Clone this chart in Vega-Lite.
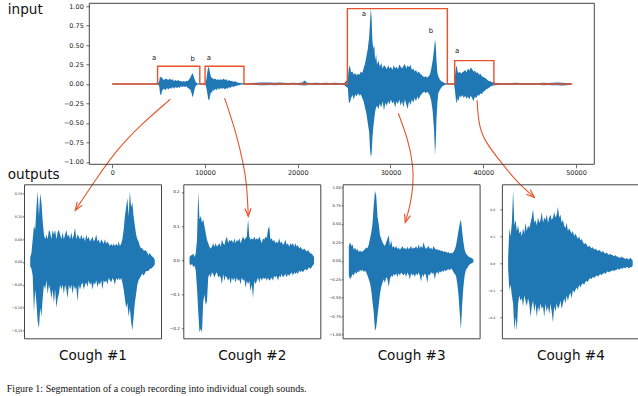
{
 "$schema": "https://vega.github.io/schema/vega-lite/v6.json",
 "padding": {"left": 6, "top": 2.3, "right": 0, "bottom": 0},
 "autosize": {"type": "pad"},
 "background": "white",
 "config": {
   "font": "DejaVu Sans",
   "view": {"stroke": "#444", "strokeWidth": 1},
   "axis": {"domain": false, "grid": false, "labelOverlap": false, "labelColor": "#222", "tickColor": "#333", "tickWidth": 0.7, "titleColor": "#111", "titleFontWeight": "normal", "titleFont": "DejaVu Sans", "labelFont": "DejaVu Sans"}
 },
 "title": {"text": "Figure 1:  Segmentation  of  a  cough  recording  into  individual  cough  sounds.", "orient": "bottom", "anchor": "start", "font": "Liberation Serif", "fontSize": 10, "fontWeight": "normal", "color": "#111", "offset": 22},
 "datasets": {
  "wave": [
   {"x":0,"lo":-0.006,"hi":0.006},{"x":1000,"lo":-0.006,"hi":0.006},{"x":2000,"lo":-0.007,"hi":0.007},{"x":3000,"lo":-0.006,"hi":0.006},{"x":4000,"lo":-0.007,"hi":0.007},{"x":4900,"lo":-0.008,"hi":0.008},
   {"x":5050,"lo":-0.02,"hi":0.03},{"x":5150,"lo":-0.12,"hi":0.1},{"x":5250,"lo":-0.15,"hi":0.08},{"x":5350,"lo":-0.1,"hi":0.09},{"x":5450,"lo":-0.07,"hi":0.06},{"x":5600,"lo":-0.06,"hi":0.05},{"x":5750,"lo":-0.08,"hi":0.07},{"x":5900,"lo":-0.05,"hi":0.06},{"x":6050,"lo":-0.07,"hi":0.05},{"x":6200,"lo":-0.05,"hi":0.07},{"x":6350,"lo":-0.06,"hi":0.05},{"x":6500,"lo":-0.04,"hi":0.06},{"x":6650,"lo":-0.06,"hi":0.04},{"x":6800,"lo":-0.04,"hi":0.05},{"x":6950,"lo":-0.05,"hi":0.04},{"x":7100,"lo":-0.04,"hi":0.05},{"x":7250,"lo":-0.05,"hi":0.04},{"x":7400,"lo":-0.03,"hi":0.04},{"x":7550,"lo":-0.04,"hi":0.03},{"x":7700,"lo":-0.03,"hi":0.04},{"x":7850,"lo":-0.04,"hi":0.03},{"x":8000,"lo":-0.03,"hi":0.04},{"x":8150,"lo":-0.05,"hi":0.04},{"x":8300,"lo":-0.06,"hi":0.06},{"x":8450,"lo":-0.08,"hi":0.09},{"x":8550,"lo":-0.12,"hi":0.12},{"x":8650,"lo":-0.17,"hi":0.14},{"x":8750,"lo":-0.14,"hi":0.11},{"x":8850,"lo":-0.08,"hi":0.07},{"x":8950,"lo":-0.04,"hi":0.04},{"x":9050,"lo":-0.02,"hi":0.02},{"x":9150,"lo":-0.01,"hi":0.01},
   {"x":9300,"lo":-0.006,"hi":0.006},{"x":9700,"lo":-0.006,"hi":0.006},{"x":10050,"lo":-0.01,"hi":0.01},
   {"x":10150,"lo":-0.05,"hi":0.06},{"x":10250,"lo":-0.12,"hi":0.15},{"x":10350,"lo":-0.2,"hi":0.22},{"x":10450,"lo":-0.21,"hi":0.2},{"x":10550,"lo":-0.15,"hi":0.14},{"x":10650,"lo":-0.1,"hi":0.09},{"x":10750,"lo":-0.12,"hi":0.08},{"x":10850,"lo":-0.07,"hi":0.07},{"x":10950,"lo":-0.09,"hi":0.06},{"x":11100,"lo":-0.06,"hi":0.07},{"x":11250,"lo":-0.08,"hi":0.05},{"x":11400,"lo":-0.05,"hi":0.06},{"x":11550,"lo":-0.07,"hi":0.05},{"x":11700,"lo":-0.05,"hi":0.06},{"x":11850,"lo":-0.06,"hi":0.05},{"x":12000,"lo":-0.05,"hi":0.07},{"x":12150,"lo":-0.07,"hi":0.05},{"x":12300,"lo":-0.05,"hi":0.06},{"x":12450,"lo":-0.06,"hi":0.04},{"x":12600,"lo":-0.04,"hi":0.05},{"x":12750,"lo":-0.05,"hi":0.04},{"x":12900,"lo":-0.03,"hi":0.04},{"x":13050,"lo":-0.04,"hi":0.03},{"x":13200,"lo":-0.03,"hi":0.035},{"x":13350,"lo":-0.025,"hi":0.03},{"x":13500,"lo":-0.02,"hi":0.02},{"x":13650,"lo":-0.015,"hi":0.015},{"x":13800,"lo":-0.01,"hi":0.012},{"x":14000,"lo":-0.008,"hi":0.008},
   {"x":14500,"lo":-0.008,"hi":0.01},{"x":15000,"lo":-0.01,"hi":0.012},{"x":15500,"lo":-0.012,"hi":0.015},{"x":16000,"lo":-0.015,"hi":0.02},{"x":16500,"lo":-0.015,"hi":0.018},{"x":17000,"lo":-0.012,"hi":0.02},{"x":17500,"lo":-0.015,"hi":0.015},{"x":18000,"lo":-0.012,"hi":0.018},{"x":18500,"lo":-0.01,"hi":0.015},{"x":19000,"lo":-0.012,"hi":0.012},{"x":19500,"lo":-0.01,"hi":0.015},{"x":20000,"lo":-0.012,"hi":0.012},{"x":20500,"lo":-0.015,"hi":0.02},{"x":20750,"lo":-0.02,"hi":0.045},{"x":21000,"lo":-0.012,"hi":0.015},{"x":21500,"lo":-0.01,"hi":0.012},{"x":22000,"lo":-0.012,"hi":0.015},{"x":22500,"lo":-0.01,"hi":0.012},{"x":23000,"lo":-0.012,"hi":0.015},{"x":23500,"lo":-0.01,"hi":0.012},{"x":24000,"lo":-0.012,"hi":0.015},{"x":24500,"lo":-0.01,"hi":0.012},{"x":25000,"lo":-0.012,"hi":0.012},
   {"x":25400,"lo":-0.05,"hi":0.06},{"x":25500,"lo":-0.22,"hi":0.2},{"x":25600,"lo":-0.25,"hi":0.24},{"x":25750,"lo":-0.18,"hi":0.15},{"x":25900,"lo":-0.14,"hi":0.16},{"x":26050,"lo":-0.2,"hi":0.12},{"x":26200,"lo":-0.13,"hi":0.14},{"x":26350,"lo":-0.16,"hi":0.11},{"x":26500,"lo":-0.12,"hi":0.13},{"x":26650,"lo":-0.15,"hi":0.12},{"x":26800,"lo":-0.13,"hi":0.16},{"x":26950,"lo":-0.18,"hi":0.14},{"x":27100,"lo":-0.22,"hi":0.2},{"x":27250,"lo":-0.3,"hi":0.26},{"x":27400,"lo":-0.38,"hi":0.35},{"x":27550,"lo":-0.5,"hi":0.45},{"x":27700,"lo":-0.62,"hi":0.6},{"x":27800,"lo":-0.85,"hi":0.8},{"x":27880,"lo":-0.93,"hi":0.97},{"x":27960,"lo":-0.9,"hi":0.85},{"x":28050,"lo":-0.7,"hi":0.55},{"x":28150,"lo":-0.55,"hi":0.45},{"x":28250,"lo":-0.45,"hi":0.5},{"x":28350,"lo":-0.35,"hi":0.3},{"x":28450,"lo":-0.3,"hi":0.38},{"x":28550,"lo":-0.28,"hi":0.25},{"x":28700,"lo":-0.32,"hi":0.3},{"x":28850,"lo":-0.25,"hi":0.22},{"x":29000,"lo":-0.3,"hi":0.27},{"x":29150,"lo":-0.22,"hi":0.2},{"x":29300,"lo":-0.34,"hi":0.24},{"x":29450,"lo":-0.24,"hi":0.22},{"x":29600,"lo":-0.28,"hi":0.19},{"x":29750,"lo":-0.22,"hi":0.24},{"x":29900,"lo":-0.26,"hi":0.2},{"x":30050,"lo":-0.2,"hi":0.22},{"x":30200,"lo":-0.25,"hi":0.18},{"x":30350,"lo":-0.22,"hi":0.24},{"x":30500,"lo":-0.3,"hi":0.2},{"x":30650,"lo":-0.22,"hi":0.22},{"x":30800,"lo":-0.26,"hi":0.19},{"x":30950,"lo":-0.2,"hi":0.25},{"x":31100,"lo":-0.28,"hi":0.22},{"x":31250,"lo":-0.22,"hi":0.2},{"x":31400,"lo":-0.3,"hi":0.23},{"x":31550,"lo":-0.2,"hi":0.26},{"x":31700,"lo":-0.26,"hi":0.2},{"x":31850,"lo":-0.32,"hi":0.24},{"x":32000,"lo":-0.22,"hi":0.21},{"x":32150,"lo":-0.27,"hi":0.25},{"x":32300,"lo":-0.2,"hi":0.18},{"x":32450,"lo":-0.24,"hi":0.2},{"x":32600,"lo":-0.18,"hi":0.16},{"x":32750,"lo":-0.22,"hi":0.18},{"x":32900,"lo":-0.16,"hi":0.14},{"x":33050,"lo":-0.2,"hi":0.16},{"x":33200,"lo":-0.15,"hi":0.13},{"x":33350,"lo":-0.13,"hi":0.12},{"x":33500,"lo":-0.11,"hi":0.1},{"x":33650,"lo":-0.1,"hi":0.09},{"x":33800,"lo":-0.12,"hi":0.1},{"x":33950,"lo":-0.1,"hi":0.08},{"x":34100,"lo":-0.12,"hi":0.1},{"x":34250,"lo":-0.15,"hi":0.12},{"x":34400,"lo":-0.22,"hi":0.2},{"x":34550,"lo":-0.35,"hi":0.3},{"x":34700,"lo":-0.6,"hi":0.45},{"x":34800,"lo":-0.91,"hi":0.57},{"x":34880,"lo":-0.75,"hi":0.5},{"x":34960,"lo":-0.45,"hi":0.3},{"x":35050,"lo":-0.25,"hi":0.15},{"x":35150,"lo":-0.12,"hi":0.1},{"x":35300,"lo":-0.08,"hi":0.06},{"x":35450,"lo":-0.05,"hi":0.04},{"x":35600,"lo":-0.03,"hi":0.03},{"x":35750,"lo":-0.02,"hi":0.02},{"x":35900,"lo":-0.01,"hi":0.01},
   {"x":36100,"lo":-0.008,"hi":0.008},{"x":36500,"lo":-0.006,"hi":0.006},{"x":36850,"lo":-0.008,"hi":0.01},
   {"x":36950,"lo":-0.08,"hi":0.1},{"x":37050,"lo":-0.2,"hi":0.2},{"x":37150,"lo":-0.25,"hi":0.24},{"x":37250,"lo":-0.18,"hi":0.15},{"x":37350,"lo":-0.22,"hi":0.14},{"x":37450,"lo":-0.15,"hi":0.16},{"x":37600,"lo":-0.17,"hi":0.13},{"x":37750,"lo":-0.14,"hi":0.15},{"x":37900,"lo":-0.18,"hi":0.16},{"x":38050,"lo":-0.15,"hi":0.18},{"x":38200,"lo":-0.19,"hi":0.15},{"x":38350,"lo":-0.16,"hi":0.2},{"x":38500,"lo":-0.2,"hi":0.17},{"x":38650,"lo":-0.15,"hi":0.21},{"x":38800,"lo":-0.18,"hi":0.19},{"x":38950,"lo":-0.22,"hi":0.16},{"x":39100,"lo":-0.16,"hi":0.17},{"x":39250,"lo":-0.18,"hi":0.14},{"x":39400,"lo":-0.14,"hi":0.15},{"x":39550,"lo":-0.15,"hi":0.12},{"x":39700,"lo":-0.12,"hi":0.13},{"x":39850,"lo":-0.13,"hi":0.1},{"x":40000,"lo":-0.1,"hi":0.09},{"x":40150,"lo":-0.09,"hi":0.08},{"x":40300,"lo":-0.07,"hi":0.07},{"x":40450,"lo":-0.06,"hi":0.05},{"x":40600,"lo":-0.05,"hi":0.04},{"x":40750,"lo":-0.035,"hi":0.035},{"x":40900,"lo":-0.025,"hi":0.025},{"x":41100,"lo":-0.02,"hi":0.02},{"x":41300,"lo":-0.015,"hi":0.015},
   {"x":41600,"lo":-0.012,"hi":0.012},{"x":42000,"lo":-0.01,"hi":0.012},{"x":42500,"lo":-0.012,"hi":0.01},{"x":43000,"lo":-0.01,"hi":0.012},{"x":43500,"lo":-0.012,"hi":0.015},{"x":44000,"lo":-0.01,"hi":0.012},{"x":44500,"lo":-0.012,"hi":0.01},{"x":45000,"lo":-0.01,"hi":0.012},{"x":45500,"lo":-0.012,"hi":0.01},{"x":46000,"lo":-0.01,"hi":0.012},{"x":46500,"lo":-0.015,"hi":0.015},{"x":47000,"lo":-0.012,"hi":0.012},{"x":47500,"lo":-0.015,"hi":0.015},{"x":48000,"lo":-0.015,"hi":0.018},{"x":48500,"lo":-0.018,"hi":0.015},{"x":49000,"lo":-0.015,"hi":0.012},{"x":49500,"lo":-0.01,"hi":0.01}
  ],
  "boxes": [
   {"i":0,"x":0,"y":0},{"i":1,"x":4890,"y":0},{"i":2,"x":4890,"y":0.227},{"i":3,"x":9440,"y":0.227},{"i":4,"x":9440,"y":0},{"i":5,"x":10010,"y":0},{"i":6,"x":10010,"y":0.227},{"i":7,"x":14200,"y":0.227},{"i":8,"x":14200,"y":0},{"i":9,"x":25350,"y":0},{"i":10,"x":25350,"y":0.967},{"i":11,"x":36130,"y":0.967},{"i":12,"x":36130,"y":0},{"i":13,"x":36920,"y":0},{"i":14,"x":36920,"y":0.3},{"i":15,"x":41150,"y":0.3},{"i":16,"x":41150,"y":0},{"i":17,"x":49600,"y":0}
  ],
  "labels": [
   {"x":4525,"y":0.333,"label":"a"},{"x":8680,"y":0.317,"label":"b"},{"x":10410,"y":0.333,"label":"a"},
   {"x":27140,"y":0.894,"label":"a"},{"x":34360,"y":0.685,"label":"b"},{"x":37180,"y":0.428,"label":"a"}
  ],
  "arrows": [
   {"arrow":1,"i":0,"x":6258,"y":-0.196},{"arrow":1,"i":1,"x":3131,"y":-0.517},{"arrow":1,"i":2,"x":436,"y":-0.85},{"arrow":1,"i":3,"x":-1829,"y":-1.235},{"arrow":1,"i":4,"x":-3986,"y":-1.62},
   {"arrow":2,"i":0,"x":12112,"y":-0.18},{"arrow":2,"i":1,"x":13373,"y":-0.632},{"arrow":2,"i":2,"x":14128,"y":-1.017},{"arrow":2,"i":3,"x":14506,"y":-1.274},{"arrow":2,"i":4,"x":14667,"y":-1.697},
   {"arrow":3,"i":0,"x":30840,"y":-0.376},{"arrow":3,"i":1,"x":31918,"y":-0.722},{"arrow":3,"i":2,"x":32457,"y":-1.043},{"arrow":3,"i":3,"x":32457,"y":-1.299},{"arrow":3,"i":4,"x":32134,"y":-1.556},{"arrow":3,"i":5,"x":31595,"y":-1.774},
   {"arrow":4,"i":0,"x":39334,"y":-0.209},{"arrow":4,"i":1,"x":39517,"y":-0.552},{"arrow":4,"i":2,"x":40336,"y":-0.764},{"arrow":4,"i":3,"x":42029,"y":-1.021},{"arrow":4,"i":4,"x":43562,"y":-1.248},{"arrow":4,"i":5,"x":45503,"y":-1.453}
  ],
  "heads": [
   {"arrow":1,"x":-3986,"y":-1.62},{"arrow":2,"x":14667,"y":-1.697},{"arrow":3,"x":31595,"y":-1.774},{"arrow":4,"x":45503,"y":-1.453}
  ],
  "c1": [
   {"t":0,"lo":-0.01,"hi":0.01},{"t":1,"lo":-0.015,"hi":0.02},{"t":2,"lo":-0.03,"hi":0.05},{"t":3,"lo":-0.11,"hi":0.08},{"t":4,"lo":-0.06,"hi":0.07},{"t":5,"lo":-0.09,"hi":0.12},{"t":6,"lo":-0.13,"hi":0.155},{"t":7,"lo":-0.145,"hi":0.1},{"t":8,"lo":-0.1,"hi":0.15},{"t":9,"lo":-0.12,"hi":0.13},{"t":10,"lo":-0.08,"hi":0.09},{"t":11,"lo":-0.05,"hi":0.06},{"t":12,"lo":-0.06,"hi":0.05},{"t":13,"lo":-0.04,"hi":0.06},{"t":14,"lo":-0.07,"hi":0.05},{"t":15,"lo":-0.05,"hi":0.07},{"t":16,"lo":-0.06,"hi":0.065},{"t":17,"lo":-0.08,"hi":0.05},{"t":18,"lo":-0.06,"hi":0.07},{"t":19,"lo":-0.09,"hi":0.06},{"t":20,"lo":-0.06,"hi":0.07},{"t":21,"lo":-0.1,"hi":0.05},{"t":22,"lo":-0.08,"hi":0.065},{"t":23,"lo":-0.07,"hi":0.07},{"t":24,"lo":-0.05,"hi":0.06},{"t":25,"lo":-0.06,"hi":0.05},{"t":26,"lo":-0.05,"hi":0.065},{"t":27,"lo":-0.07,"hi":0.05},{"t":28,"lo":-0.05,"hi":0.06},{"t":29,"lo":-0.06,"hi":0.07},{"t":30,"lo":-0.08,"hi":0.055},{"t":31,"lo":-0.05,"hi":0.06},{"t":32,"lo":-0.06,"hi":0.05},{"t":33,"lo":-0.05,"hi":0.065},{"t":34,"lo":-0.07,"hi":0.05},{"t":35,"lo":-0.05,"hi":0.06},{"t":36,"lo":-0.06,"hi":0.075},{"t":37,"lo":-0.055,"hi":0.05},{"t":38,"lo":-0.087,"hi":0.06},{"t":39,"lo":-0.05,"hi":0.055},{"t":40,"lo":-0.06,"hi":0.05},{"t":41,"lo":-0.05,"hi":0.06},{"t":42,"lo":-0.045,"hi":0.05},{"t":43,"lo":-0.06,"hi":0.055},{"t":44,"lo":-0.05,"hi":0.045},{"t":45,"lo":-0.045,"hi":0.06},{"t":46,"lo":-0.055,"hi":0.05},{"t":47,"lo":-0.04,"hi":0.055},{"t":48,"lo":-0.05,"hi":0.045},{"t":49,"lo":-0.045,"hi":0.05},{"t":50,"lo":-0.06,"hi":0.055},{"t":51,"lo":-0.045,"hi":0.045},{"t":52,"lo":-0.05,"hi":0.05},{"t":53,"lo":-0.04,"hi":0.06},{"t":54,"lo":-0.055,"hi":0.045},{"t":55,"lo":-0.045,"hi":0.05},{"t":56,"lo":-0.05,"hi":0.04},{"t":57,"lo":-0.04,"hi":0.05},{"t":58,"lo":-0.06,"hi":0.045},{"t":59,"lo":-0.04,"hi":0.04},{"t":60,"lo":-0.045,"hi":0.05},{"t":61,"lo":-0.04,"hi":0.04},{"t":62,"lo":-0.05,"hi":0.045},{"t":63,"lo":-0.035,"hi":0.04},{"t":64,"lo":-0.04,"hi":0.035},{"t":65,"lo":-0.045,"hi":0.04},{"t":66,"lo":-0.035,"hi":0.035},{"t":67,"lo":-0.04,"hi":0.04},{"t":68,"lo":-0.05,"hi":0.035},{"t":69,"lo":-0.035,"hi":0.04},{"t":70,"lo":-0.04,"hi":0.035},{"t":71,"lo":-0.035,"hi":0.045},{"t":72,"lo":-0.04,"hi":0.035},{"t":73,"lo":-0.035,"hi":0.04},{"t":74,"lo":-0.045,"hi":0.05},{"t":75,"lo":-0.06,"hi":0.07},{"t":76,"lo":-0.08,"hi":0.1},{"t":77,"lo":-0.1,"hi":0.12},{"t":78,"lo":-0.09,"hi":0.14},{"t":79,"lo":-0.12,"hi":0.1},{"t":80,"lo":-0.1,"hi":0.155},{"t":81,"lo":-0.13,"hi":0.12},{"t":82,"lo":-0.15,"hi":0.13},{"t":83,"lo":-0.12,"hi":0.1},{"t":84,"lo":-0.09,"hi":0.08},{"t":85,"lo":-0.07,"hi":0.06},{"t":86,"lo":-0.05,"hi":0.05},{"t":87,"lo":-0.04,"hi":0.045},{"t":88,"lo":-0.035,"hi":0.035},{"t":89,"lo":-0.03,"hi":0.03},{"t":90,"lo":-0.025,"hi":0.03},{"t":91,"lo":-0.03,"hi":0.025},{"t":92,"lo":-0.025,"hi":0.025},{"t":93,"lo":-0.02,"hi":0.025},{"t":94,"lo":-0.02,"hi":0.02},{"t":95,"lo":-0.02,"hi":0.015},{"t":96,"lo":-0.015,"hi":0.02},{"t":97,"lo":-0.015,"hi":0.015},{"t":98,"lo":-0.012,"hi":0.012},{"t":99,"lo":-0.01,"hi":0.01},{"t":100,"lo":-0.005,"hi":0.005}
  ],
  "c2": [
   {"t":0,"lo":-0.01,"hi":0.01},{"t":1,"lo":-0.015,"hi":0.015},{"t":2,"lo":-0.01,"hi":0.015},{"t":3,"lo":-0.02,"hi":0.02},{"t":4,"lo":-0.015,"hi":0.01},{"t":5,"lo":-0.03,"hi":0.02},{"t":6,"lo":-0.08,"hi":0.06},{"t":7,"lo":-0.15,"hi":0.2},{"t":8,"lo":-0.21,"hi":0.12},{"t":9,"lo":-0.2,"hi":0.13},{"t":10,"lo":-0.21,"hi":0.11},{"t":11,"lo":-0.12,"hi":0.12},{"t":12,"lo":-0.1,"hi":0.1},{"t":13,"lo":-0.13,"hi":0.08},{"t":14,"lo":-0.12,"hi":0.06},{"t":15,"lo":-0.05,"hi":0.05},{"t":16,"lo":-0.04,"hi":0.04},{"t":17,"lo":-0.05,"hi":0.035},{"t":18,"lo":-0.035,"hi":0.04},{"t":19,"lo":-0.04,"hi":0.05},{"t":20,"lo":-0.05,"hi":0.04},{"t":21,"lo":-0.04,"hi":0.05},{"t":22,"lo":-0.035,"hi":0.04},{"t":23,"lo":-0.05,"hi":0.045},{"t":24,"lo":-0.045,"hi":0.05},{"t":25,"lo":-0.05,"hi":0.04},{"t":26,"lo":-0.07,"hi":0.06},{"t":27,"lo":-0.04,"hi":0.05},{"t":28,"lo":-0.06,"hi":0.045},{"t":29,"lo":-0.045,"hi":0.06},{"t":30,"lo":-0.05,"hi":0.07},{"t":31,"lo":-0.06,"hi":0.05},{"t":32,"lo":-0.05,"hi":0.06},{"t":33,"lo":-0.07,"hi":0.055},{"t":34,"lo":-0.05,"hi":0.06},{"t":35,"lo":-0.06,"hi":0.05},{"t":36,"lo":-0.05,"hi":0.065},{"t":37,"lo":-0.065,"hi":0.05},{"t":38,"lo":-0.05,"hi":0.06},{"t":39,"lo":-0.06,"hi":0.055},{"t":40,"lo":-0.055,"hi":0.065},{"t":41,"lo":-0.07,"hi":0.05},{"t":42,"lo":-0.05,"hi":0.06},{"t":43,"lo":-0.06,"hi":0.07},{"t":44,"lo":-0.055,"hi":0.06},{"t":45,"lo":-0.08,"hi":0.065},{"t":46,"lo":-0.06,"hi":0.07},{"t":47,"lo":-0.07,"hi":0.12},{"t":48,"lo":-0.06,"hi":0.07},{"t":49,"lo":-0.09,"hi":0.06},{"t":50,"lo":-0.07,"hi":0.065},{"t":51,"lo":-0.11,"hi":0.06},{"t":52,"lo":-0.06,"hi":0.07},{"t":53,"lo":-0.07,"hi":0.06},{"t":54,"lo":-0.06,"hi":0.065},{"t":55,"lo":-0.05,"hi":0.06},{"t":56,"lo":-0.065,"hi":0.07},{"t":57,"lo":-0.05,"hi":0.06},{"t":58,"lo":-0.06,"hi":0.05},{"t":59,"lo":-0.05,"hi":0.065},{"t":60,"lo":-0.055,"hi":0.06},{"t":61,"lo":-0.05,"hi":0.07},{"t":62,"lo":-0.06,"hi":0.065},{"t":63,"lo":-0.05,"hi":0.09},{"t":64,"lo":-0.06,"hi":0.1},{"t":65,"lo":-0.055,"hi":0.06},{"t":66,"lo":-0.05,"hi":0.065},{"t":67,"lo":-0.06,"hi":0.055},{"t":68,"lo":-0.045,"hi":0.06},{"t":69,"lo":-0.05,"hi":0.05},{"t":70,"lo":-0.045,"hi":0.055},{"t":71,"lo":-0.06,"hi":0.05},{"t":72,"lo":-0.045,"hi":0.065},{"t":73,"lo":-0.05,"hi":0.05},{"t":74,"lo":-0.04,"hi":0.055},{"t":75,"lo":-0.05,"hi":0.045},{"t":76,"lo":-0.045,"hi":0.05},{"t":77,"lo":-0.04,"hi":0.06},{"t":78,"lo":-0.05,"hi":0.045},{"t":79,"lo":-0.04,"hi":0.05},{"t":80,"lo":-0.045,"hi":0.04},{"t":81,"lo":-0.04,"hi":0.05},{"t":82,"lo":-0.035,"hi":0.045},{"t":83,"lo":-0.045,"hi":0.05},{"t":84,"lo":-0.035,"hi":0.04},{"t":85,"lo":-0.04,"hi":0.05},{"t":86,"lo":-0.035,"hi":0.04},{"t":87,"lo":-0.04,"hi":0.045},{"t":88,"lo":-0.03,"hi":0.035},{"t":89,"lo":-0.035,"hi":0.04},{"t":90,"lo":-0.03,"hi":0.035},{"t":91,"lo":-0.035,"hi":0.03},{"t":92,"lo":-0.03,"hi":0.035},{"t":93,"lo":-0.025,"hi":0.03},{"t":94,"lo":-0.03,"hi":0.025},{"t":95,"lo":-0.025,"hi":0.03},{"t":96,"lo":-0.02,"hi":0.025},{"t":97,"lo":-0.025,"hi":0.02},{"t":98,"lo":-0.02,"hi":0.02},{"t":99,"lo":-0.015,"hi":0.015},{"t":100,"lo":-0.01,"hi":0.01}
  ],
  "c3": [
   {"t":0,"lo":-0.2,"hi":0.2},{"t":1,"lo":-0.25,"hi":0.25},{"t":2,"lo":-0.22,"hi":0.2},{"t":3,"lo":-0.18,"hi":0.22},{"t":4,"lo":-0.2,"hi":0.15},{"t":5,"lo":-0.15,"hi":0.18},{"t":6,"lo":-0.18,"hi":0.14},{"t":7,"lo":-0.14,"hi":0.16},{"t":8,"lo":-0.16,"hi":0.12},{"t":9,"lo":-0.12,"hi":0.14},{"t":10,"lo":-0.14,"hi":0.12},{"t":11,"lo":-0.12,"hi":0.13},{"t":12,"lo":-0.15,"hi":0.14},{"t":13,"lo":-0.13,"hi":0.16},{"t":14,"lo":-0.16,"hi":0.18},{"t":15,"lo":-0.2,"hi":0.17},{"t":16,"lo":-0.25,"hi":0.22},{"t":17,"lo":-0.3,"hi":0.3},{"t":18,"lo":-0.4,"hi":0.38},{"t":19,"lo":-0.55,"hi":0.5},{"t":20,"lo":-0.7,"hi":0.75},{"t":21,"lo":-0.95,"hi":0.95},{"t":22,"lo":-0.9,"hi":0.88},{"t":23,"lo":-0.75,"hi":0.6},{"t":24,"lo":-0.6,"hi":0.5},{"t":25,"lo":-0.45,"hi":0.35},{"t":26,"lo":-0.35,"hi":0.3},{"t":27,"lo":-0.3,"hi":0.25},{"t":28,"lo":-0.25,"hi":0.22},{"t":29,"lo":-0.3,"hi":0.2},{"t":30,"lo":-0.22,"hi":0.25},{"t":31,"lo":-0.25,"hi":0.3},{"t":32,"lo":-0.35,"hi":0.35},{"t":33,"lo":-0.25,"hi":0.2},{"t":34,"lo":-0.2,"hi":0.28},{"t":35,"lo":-0.22,"hi":0.18},{"t":36,"lo":-0.18,"hi":0.2},{"t":37,"lo":-0.2,"hi":0.17},{"t":38,"lo":-0.17,"hi":0.2},{"t":39,"lo":-0.22,"hi":0.16},{"t":40,"lo":-0.17,"hi":0.18},{"t":41,"lo":-0.2,"hi":0.15},{"t":42,"lo":-0.16,"hi":0.17},{"t":43,"lo":-0.18,"hi":0.2},{"t":44,"lo":-0.2,"hi":0.16},{"t":45,"lo":-0.17,"hi":0.18},{"t":46,"lo":-0.22,"hi":0.15},{"t":47,"lo":-0.16,"hi":0.19},{"t":48,"lo":-0.19,"hi":0.16},{"t":49,"lo":-0.25,"hi":0.17},{"t":50,"lo":-0.17,"hi":0.2},{"t":51,"lo":-0.2,"hi":0.16},{"t":52,"lo":-0.18,"hi":0.18},{"t":53,"lo":-0.22,"hi":0.17},{"t":54,"lo":-0.17,"hi":0.2},{"t":55,"lo":-0.2,"hi":0.16},{"t":56,"lo":-0.16,"hi":0.22},{"t":57,"lo":-0.2,"hi":0.17},{"t":58,"lo":-0.28,"hi":0.2},{"t":59,"lo":-0.18,"hi":0.17},{"t":60,"lo":-0.22,"hi":0.25},{"t":61,"lo":-0.17,"hi":0.19},{"t":62,"lo":-0.2,"hi":0.16},{"t":63,"lo":-0.3,"hi":0.18},{"t":64,"lo":-0.18,"hi":0.2},{"t":65,"lo":-0.2,"hi":0.16},{"t":66,"lo":-0.15,"hi":0.18},{"t":67,"lo":-0.18,"hi":0.15},{"t":68,"lo":-0.16,"hi":0.2},{"t":69,"lo":-0.25,"hi":0.17},{"t":70,"lo":-0.17,"hi":0.15},{"t":71,"lo":-0.15,"hi":0.16},{"t":72,"lo":-0.18,"hi":0.14},{"t":73,"lo":-0.14,"hi":0.15},{"t":74,"lo":-0.16,"hi":0.13},{"t":75,"lo":-0.13,"hi":0.14},{"t":76,"lo":-0.15,"hi":0.12},{"t":77,"lo":-0.12,"hi":0.13},{"t":78,"lo":-0.14,"hi":0.12},{"t":79,"lo":-0.12,"hi":0.11},{"t":80,"lo":-0.11,"hi":0.12},{"t":81,"lo":-0.13,"hi":0.1},{"t":82,"lo":-0.1,"hi":0.11},{"t":83,"lo":-0.12,"hi":0.1},{"t":84,"lo":-0.15,"hi":0.12},{"t":85,"lo":-0.18,"hi":0.15},{"t":86,"lo":-0.2,"hi":0.2},{"t":87,"lo":-0.3,"hi":0.3},{"t":88,"lo":-0.45,"hi":0.4},{"t":89,"lo":-0.7,"hi":0.5},{"t":90,"lo":-0.93,"hi":0.56},{"t":91,"lo":-0.6,"hi":0.4},{"t":92,"lo":-0.35,"hi":0.25},{"t":93,"lo":-0.2,"hi":0.15},{"t":94,"lo":-0.12,"hi":0.1},{"t":95,"lo":-0.1,"hi":0.08},{"t":96,"lo":-0.07,"hi":0.06},{"t":97,"lo":-0.05,"hi":0.05},{"t":98,"lo":-0.04,"hi":0.04},{"t":99,"lo":-0.03,"hi":0.03},{"t":100,"lo":-0.02,"hi":0.02}
  ],
  "c4": [
   {"t":0,"lo":-0.02,"hi":0.02},{"t":1,"lo":-0.1,"hi":0.13},{"t":2,"lo":-0.08,"hi":0.1},{"t":3,"lo":-0.12,"hi":0.15},{"t":4,"lo":-0.15,"hi":0.27},{"t":5,"lo":-0.25,"hi":0.14},{"t":6,"lo":-0.2,"hi":0.16},{"t":7,"lo":-0.25,"hi":0.12},{"t":8,"lo":-0.15,"hi":0.14},{"t":9,"lo":-0.12,"hi":0.11},{"t":10,"lo":-0.14,"hi":0.12},{"t":11,"lo":-0.13,"hi":0.1},{"t":12,"lo":-0.16,"hi":0.13},{"t":13,"lo":-0.12,"hi":0.11},{"t":14,"lo":-0.14,"hi":0.15},{"t":15,"lo":-0.16,"hi":0.12},{"t":16,"lo":-0.13,"hi":0.14},{"t":17,"lo":-0.15,"hi":0.13},{"t":18,"lo":-0.2,"hi":0.15},{"t":19,"lo":-0.16,"hi":0.17},{"t":20,"lo":-0.14,"hi":0.2},{"t":21,"lo":-0.18,"hi":0.15},{"t":22,"lo":-0.15,"hi":0.16},{"t":23,"lo":-0.2,"hi":0.14},{"t":24,"lo":-0.16,"hi":0.17},{"t":25,"lo":-0.18,"hi":0.15},{"t":26,"lo":-0.15,"hi":0.16},{"t":27,"lo":-0.17,"hi":0.19},{"t":28,"lo":-0.16,"hi":0.15},{"t":29,"lo":-0.2,"hi":0.17},{"t":30,"lo":-0.15,"hi":0.16},{"t":31,"lo":-0.18,"hi":0.18},{"t":32,"lo":-0.16,"hi":0.15},{"t":33,"lo":-0.19,"hi":0.17},{"t":34,"lo":-0.15,"hi":0.18},{"t":35,"lo":-0.18,"hi":0.16},{"t":36,"lo":-0.22,"hi":0.17},{"t":37,"lo":-0.16,"hi":0.19},{"t":38,"lo":-0.18,"hi":0.17},{"t":39,"lo":-0.15,"hi":0.18},{"t":40,"lo":-0.17,"hi":0.21},{"t":41,"lo":-0.16,"hi":0.17},{"t":42,"lo":-0.14,"hi":0.18},{"t":43,"lo":-0.17,"hi":0.15},{"t":44,"lo":-0.15,"hi":0.16},{"t":45,"lo":-0.13,"hi":0.14},{"t":46,"lo":-0.15,"hi":0.13},{"t":47,"lo":-0.12,"hi":0.15},{"t":48,"lo":-0.14,"hi":0.12},{"t":49,"lo":-0.12,"hi":0.13},{"t":50,"lo":-0.11,"hi":0.12},{"t":51,"lo":-0.13,"hi":0.11},{"t":52,"lo":-0.1,"hi":0.12},{"t":53,"lo":-0.11,"hi":0.1},{"t":54,"lo":-0.1,"hi":0.11},{"t":55,"lo":-0.09,"hi":0.1},{"t":56,"lo":-0.1,"hi":0.09},{"t":57,"lo":-0.08,"hi":0.1},{"t":58,"lo":-0.09,"hi":0.085},{"t":59,"lo":-0.08,"hi":0.09},{"t":60,"lo":-0.075,"hi":0.08},{"t":61,"lo":-0.08,"hi":0.07},{"t":62,"lo":-0.07,"hi":0.075},{"t":63,"lo":-0.065,"hi":0.07},{"t":64,"lo":-0.07,"hi":0.06},{"t":65,"lo":-0.06,"hi":0.065},{"t":66,"lo":-0.055,"hi":0.06},{"t":67,"lo":-0.06,"hi":0.055},{"t":68,"lo":-0.05,"hi":0.06},{"t":69,"lo":-0.055,"hi":0.05},{"t":70,"lo":-0.05,"hi":0.055},{"t":71,"lo":-0.045,"hi":0.05},{"t":72,"lo":-0.05,"hi":0.045},{"t":73,"lo":-0.045,"hi":0.05},{"t":74,"lo":-0.04,"hi":0.045},{"t":75,"lo":-0.045,"hi":0.04},{"t":76,"lo":-0.04,"hi":0.045},{"t":77,"lo":-0.035,"hi":0.04},{"t":78,"lo":-0.04,"hi":0.035},{"t":79,"lo":-0.035,"hi":0.04},{"t":80,"lo":-0.03,"hi":0.035},{"t":81,"lo":-0.035,"hi":0.03},{"t":82,"lo":-0.03,"hi":0.035},{"t":83,"lo":-0.03,"hi":0.03},{"t":84,"lo":-0.025,"hi":0.03},{"t":85,"lo":-0.03,"hi":0.025},{"t":86,"lo":-0.025,"hi":0.03},{"t":87,"lo":-0.025,"hi":0.025},{"t":88,"lo":-0.02,"hi":0.025},{"t":89,"lo":-0.025,"hi":0.02},{"t":90,"lo":-0.02,"hi":0.02},{"t":91,"lo":-0.02,"hi":0.025},{"t":92,"lo":-0.02,"hi":0.02},{"t":93,"lo":-0.015,"hi":0.02},{"t":94,"lo":-0.02,"hi":0.015},{"t":95,"lo":-0.015,"hi":0.02},{"t":96,"lo":-0.015,"hi":0.015},{"t":97,"lo":-0.02,"hi":0.015},{"t":98,"lo":-0.015,"hi":0.02},{"t":99,"lo":-0.015,"hi":0.015},{"t":100,"lo":-0.01,"hi":0.01}
  ]
 },
 "bounds": "flush",
 "spacing": 20,
 "vconcat": [
  {
   "width": 570.3, "height": 161,
   "view": {"stroke": null},
   "layer": [
    {"data": {"name": "wave"}, "mark": {"type": "area", "color": "#1f77b4"},
     "encoding": {
      "x": {"field": "x", "type": "quantitative", "scale": {"domain": [-2475, 51975], "range": [65.3, 570.3], "nice": false, "zero": false},
            "axis": {"values": [0, 10000, 20000, 30000, 40000, 50000], "format": "d", "labelFontSize": 6.5, "tickSize": 3.5, "labelPadding": 2, "labelOverlap": false, "title": ""}},
      "y": {"field": "lo", "type": "quantitative", "scale": {"domain": [-1.03, 1.035], "nice": false, "zero": false},
            "axis": {"values": [-1, -0.75, -0.5, -0.25, 0, 0.25, 0.5, 0.75, 1], "format": ".2f", "labelFontSize": 6.5, "tickSize": 3.5, "labelPadding": 2.5, "labelOverlap": false, "offset": -65.3, "title": "input", "titleAngle": 0, "titleAlign": "left", "titleBaseline": "middle", "titleX": -82, "titleY": 6.3, "titleFontSize": 13.6}},
      "y2": {"field": "hi"}
     }},
    {"data": {"name": "boxes"}, "mark": {"type": "line", "color": "#e8532b", "strokeWidth": 1.4},
     "encoding": {
      "x": {"field": "x", "type": "quantitative", "axis": {"values": [0, 10000, 20000, 30000, 40000, 50000], "format": "d", "labelFontSize": 6.5, "tickSize": 3.5, "labelPadding": 2, "labelOverlap": false, "title": ""}},
      "y": {"field": "y", "type": "quantitative", "axis": {"values": [-1, -0.75, -0.5, -0.25, 0, 0.25, 0.5, 0.75, 1], "format": ".2f", "labelFontSize": 6.5, "tickSize": 3.5, "labelPadding": 2.5, "labelOverlap": false, "offset": -65.3, "title": "input", "titleAngle": 0, "titleAlign": "left", "titleBaseline": "middle", "titleX": -82, "titleY": 6.3, "titleFontSize": 13.6}},
      "order": {"field": "i", "type": "quantitative"}
     }},
    {"data": {"name": "labels"}, "mark": {"type": "text", "fontSize": 7, "color": "#222", "align": "center", "baseline": "middle"},
     "encoding": {
      "x": {"field": "x", "type": "quantitative", "axis": {"values": [0, 10000, 20000, 30000, 40000, 50000], "format": "d", "labelFontSize": 6.5, "tickSize": 3.5, "labelPadding": 2, "labelOverlap": false, "title": ""}},
      "y": {"field": "y", "type": "quantitative", "axis": {"values": [-1, -0.75, -0.5, -0.25, 0, 0.25, 0.5, 0.75, 1], "format": ".2f", "labelFontSize": 6.5, "tickSize": 3.5, "labelPadding": 2.5, "labelOverlap": false, "offset": -65.3, "title": "input", "titleAngle": 0, "titleAlign": "left", "titleBaseline": "middle", "titleX": -82, "titleY": 6.3, "titleFontSize": 13.6}},
      "text": {"field": "label"}
     }},
    {"data": {"name": "arrows"}, "mark": {"type": "line", "color": "#e8532b", "strokeWidth": 1.1, "interpolate": "basis", "clip": false},
     "encoding": {
      "x": {"field": "x", "type": "quantitative", "axis": {"values": [0, 10000, 20000, 30000, 40000, 50000], "format": "d", "labelFontSize": 6.5, "tickSize": 3.5, "labelPadding": 2, "labelOverlap": false, "title": ""}},
      "y": {"field": "y", "type": "quantitative", "axis": {"values": [-1, -0.75, -0.5, -0.25, 0, 0.25, 0.5, 0.75, 1], "format": ".2f", "labelFontSize": 6.5, "tickSize": 3.5, "labelPadding": 2.5, "labelOverlap": false, "offset": -65.3, "title": "input", "titleAngle": 0, "titleAlign": "left", "titleBaseline": "middle", "titleX": -82, "titleY": 6.3, "titleFontSize": 13.6}},
      "detail": {"field": "arrow"},
      "order": {"field": "i", "type": "quantitative"}
     }},
    {"data": {"name": "heads"}, "transform": [{"filter": "datum.arrow == 1"}], "mark": {"type": "point", "shape": "M-0.5,1.3L0,0L0.5,1.3", "size": 150, "filled": false, "stroke": "#e8532b", "strokeWidth": 1.2, "opacity": 1, "angle": 213.7, "clip": false},
     "encoding": {"x": {"field": "x", "type": "quantitative", "axis": {"values": [0, 10000, 20000, 30000, 40000, 50000], "format": "d", "labelFontSize": 6.5, "tickSize": 3.5, "labelPadding": 2, "labelOverlap": false, "title": ""}}, "y": {"field": "y", "type": "quantitative", "axis": {"values": [-1, -0.75, -0.5, -0.25, 0, 0.25, 0.5, 0.75, 1], "format": ".2f", "labelFontSize": 6.5, "tickSize": 3.5, "labelPadding": 2.5, "labelOverlap": false, "offset": -65.3, "title": "input", "titleAngle": 0, "titleAlign": "left", "titleBaseline": "middle", "titleX": -82, "titleY": 6.3, "titleFontSize": 13.6}}}},
    {"data": {"name": "heads"}, "transform": [{"filter": "datum.arrow == 2"}], "mark": {"type": "point", "shape": "M-0.5,1.3L0,0L0.5,1.3", "size": 150, "filled": false, "stroke": "#e8532b", "strokeWidth": 1.2, "opacity": 1, "angle": 177.4, "clip": false},
     "encoding": {"x": {"field": "x", "type": "quantitative", "axis": {"values": [0, 10000, 20000, 30000, 40000, 50000], "format": "d", "labelFontSize": 6.5, "tickSize": 3.5, "labelPadding": 2, "labelOverlap": false, "title": ""}}, "y": {"field": "y", "type": "quantitative", "axis": {"values": [-1, -0.75, -0.5, -0.25, 0, 0.25, 0.5, 0.75, 1], "format": ".2f", "labelFontSize": 6.5, "tickSize": 3.5, "labelPadding": 2.5, "labelOverlap": false, "offset": -65.3, "title": "input", "titleAngle": 0, "titleAlign": "left", "titleBaseline": "middle", "titleX": -82, "titleY": 6.3, "titleFontSize": 13.6}}}},
    {"data": {"name": "heads"}, "transform": [{"filter": "datum.arrow == 3"}], "mark": {"type": "point", "shape": "M-0.5,1.3L0,0L0.5,1.3", "size": 150, "filled": false, "stroke": "#e8532b", "strokeWidth": 1.2, "opacity": 1, "angle": 196.4, "clip": false},
     "encoding": {"x": {"field": "x", "type": "quantitative", "axis": {"values": [0, 10000, 20000, 30000, 40000, 50000], "format": "d", "labelFontSize": 6.5, "tickSize": 3.5, "labelPadding": 2, "labelOverlap": false, "title": ""}}, "y": {"field": "y", "type": "quantitative", "axis": {"values": [-1, -0.75, -0.5, -0.25, 0, 0.25, 0.5, 0.75, 1], "format": ".2f", "labelFontSize": 6.5, "tickSize": 3.5, "labelPadding": 2.5, "labelOverlap": false, "offset": -65.3, "title": "input", "titleAngle": 0, "titleAlign": "left", "titleBaseline": "middle", "titleX": -82, "titleY": 6.3, "titleFontSize": 13.6}}}},
    {"data": {"name": "heads"}, "transform": [{"filter": "datum.arrow == 4"}], "mark": {"type": "point", "shape": "M-0.5,1.3L0,0L0.5,1.3", "size": 150, "filled": false, "stroke": "#e8532b", "strokeWidth": 1.2, "opacity": 1, "angle": 131.6, "clip": false},
     "encoding": {"x": {"field": "x", "type": "quantitative", "axis": {"values": [0, 10000, 20000, 30000, 40000, 50000], "format": "d", "labelFontSize": 6.5, "tickSize": 3.5, "labelPadding": 2, "labelOverlap": false, "title": ""}}, "y": {"field": "y", "type": "quantitative", "axis": {"values": [-1, -0.75, -0.5, -0.25, 0, 0.25, 0.5, 0.75, 1], "format": ".2f", "labelFontSize": 6.5, "tickSize": 3.5, "labelPadding": 2.5, "labelOverlap": false, "offset": -65.3, "title": "input", "titleAngle": 0, "titleAlign": "left", "titleBaseline": "middle", "titleX": -82, "titleY": 6.3, "titleFontSize": 13.6}}}},
    {"data": {"values": [{"k": 1}]}, "mark": {"type": "rect", "filled": false, "fill": null, "stroke": "#444", "strokeWidth": 1},
     "encoding": {
      "x": {"datum": -2475, "type": "quantitative", "axis": {"values": [0, 10000, 20000, 30000, 40000, 50000], "format": "d", "labelFontSize": 6.5, "tickSize": 3.5, "labelPadding": 2, "labelOverlap": false, "title": ""}},
      "x2": {"datum": 51975},
      "y": {"datum": -1.03, "type": "quantitative", "axis": {"values": [-1, -0.75, -0.5, -0.25, 0, 0.25, 0.5, 0.75, 1], "format": ".2f", "labelFontSize": 6.5, "tickSize": 3.5, "labelPadding": 2.5, "labelOverlap": false, "offset": -65.3, "title": "input", "titleAngle": 0, "titleAlign": "left", "titleBaseline": "middle", "titleX": -82, "titleY": 6.3, "titleFontSize": 13.6}},
      "y2": {"datum": 1.035}
     }}
   ]
  },
  {
   "bounds": "flush",
   "spacing": 22.3,
   "hconcat": [
    {"width": 137, "height": 154, "data": {"name": "c1"}, "mark": {"type": "area", "color": "#1f77b4"},
     "encoding": {
      "x": {"field": "t", "type": "quantitative", "scale": {"domain": [-5, 105], "nice": false, "zero": false}, "axis": {"title": "Cough #1", "labels": false, "ticks": false, "titleFontSize": 13.6, "titlePadding": 10}},
      "y": {"field": "lo", "type": "quantitative", "scale": {"domain": [-0.167, 0.17], "nice": false, "zero": false}, "axis": {"values": [-0.15, -0.1, -0.05, 0, 0.05, 0.1, 0.15], "format": ".2f", "labelFontSize": 3.5, "tickSize": 1.5, "labelPadding": 0.5, "labelOverlap": false, "title": "outputs", "titleAngle": 0, "titleAlign": "left", "titleBaseline": "middle", "titleX": -16.7, "titleY": -10, "titleFontSize": 13.6}},
      "y2": {"field": "hi"}
     }},
    {"width": 137, "height": 154, "data": {"name": "c2"}, "mark": {"type": "area", "color": "#1f77b4"},
     "encoding": {
      "x": {"field": "t", "type": "quantitative", "scale": {"domain": [-5, 105], "nice": false, "zero": false}, "axis": {"title": "Cough #2", "labels": false, "ticks": false, "titleFontSize": 13.6, "titlePadding": 10}},
      "y": {"field": "lo", "type": "quantitative", "scale": {"domain": [-0.228, 0.2225], "nice": false, "zero": false}, "axis": {"values": [-0.2, -0.1, 0, 0.1, 0.2], "format": ".1f", "labelFontSize": 4.2, "tickSize": 2, "labelPadding": 2, "labelOverlap": false, "title": null}},
      "y2": {"field": "hi"}
     }},
    {"width": 137, "height": 154, "data": {"name": "c3"}, "mark": {"type": "area", "color": "#1f77b4"},
     "encoding": {
      "x": {"field": "t", "type": "quantitative", "scale": {"domain": [-5, 105], "nice": false, "zero": false}, "axis": {"title": "Cough #3", "labels": false, "ticks": false, "titleFontSize": 13.6, "titlePadding": 10}},
      "y": {"field": "lo", "type": "quantitative", "scale": {"domain": [-1.05, 1.037], "nice": false, "zero": false}, "axis": {"values": [-1, -0.75, -0.5, -0.25, 0, 0.25, 0.5, 0.75, 1], "format": ".2f", "labelFontSize": 3.8, "tickSize": 1.5, "labelPadding": 0.8, "labelOverlap": false, "title": null}},
      "y2": {"field": "hi"}
     }},
    {"width": 137, "height": 154, "data": {"name": "c4"}, "mark": {"type": "area", "color": "#1f77b4"},
     "encoding": {
      "x": {"field": "t", "type": "quantitative", "scale": {"domain": [-5, 105], "nice": false, "zero": false}, "axis": {"title": "Cough #4", "labels": false, "ticks": false, "titleFontSize": 13.6, "titlePadding": 10}},
      "y": {"field": "lo", "type": "quantitative", "scale": {"domain": [-0.279, 0.293], "nice": false, "zero": false}, "axis": {"values": [-0.2, -0.1, 0, 0.1, 0.2], "format": ".1f", "labelFontSize": 3.2, "tickSize": 2, "labelPadding": 5, "labelOverlap": false, "title": null}},
      "y2": {"field": "hi"}
     }}
   ]
  }
 ]
}
